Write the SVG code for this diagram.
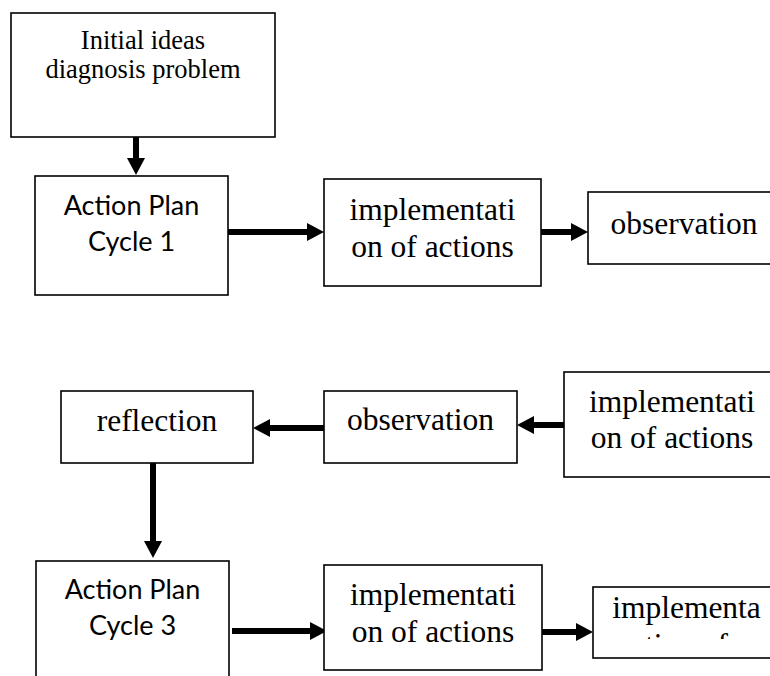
<svg xmlns="http://www.w3.org/2000/svg" width="770" height="676" viewBox="0 0 770 676">
  <style>
    .box { fill: #ffffff; stroke: #000000; stroke-width: 1.6; }
    .serif { font-family: "Liberation Serif", "Times New Roman", serif; font-size: 31.5px; fill: #000000; text-anchor: middle; }
    .small { font-size: 26.5px; }
    .sans { font-family: Lato, "Liberation Sans", sans-serif; font-size: 27px; fill: #000000; text-anchor: middle; }
    .conn { stroke: #000000; stroke-width: 6; fill: none; marker-end: url(#head); }
  </style>
  <defs>
    <marker id="head" markerUnits="userSpaceOnUse" markerWidth="18" markerHeight="18" refX="0" refY="9" orient="auto">
      <path d="M0,0 L17,9 L0,18 z" fill="#000000"/>
    </marker>
    <clipPath id="clipLast">
      <rect x="593" y="587" width="180" height="52"/>
    </clipPath>
  </defs>
  <rect width="770" height="676" fill="#ffffff"/>

  <g id="connectors">
    <line class="conn" x1="136" y1="137" x2="136" y2="158"/>
    <line class="conn" x1="228" y1="232" x2="307" y2="232"/>
    <line class="conn" x1="541" y1="232" x2="571" y2="232"/>
    <line class="conn" x1="324" y1="428" x2="270" y2="428"/>
    <line class="conn" x1="564" y1="425" x2="534" y2="425"/>
    <line class="conn" x1="153" y1="463" x2="153" y2="541"/>
    <line class="conn" x1="232" y1="631" x2="310" y2="631"/>
    <line class="conn" x1="542" y1="632" x2="576" y2="632"/>
  </g>

  <g id="initial">
    <rect class="box" x="11" y="13" width="264" height="124"/>
    <text class="serif small" x="143" y="49">Initial ideas</text>
    <text class="serif small" x="143" y="78">diagnosis problem</text>
  </g>

  <g id="plan1">
    <rect class="box" x="35" y="176" width="193" height="119"/>
    <text class="sans" x="131.5" y="215">Action Plan</text>
    <text class="sans" x="131.5" y="251">Cycle 1</text>
  </g>

  <g id="impl1">
    <rect class="box" x="324" y="179" width="217" height="107"/>
    <text class="serif" x="432.5" y="220">implementati</text>
    <text class="serif" x="432.5" y="257">on of actions</text>
  </g>

  <g id="obs1">
    <rect class="box" x="588" y="192" width="200" height="72"/>
    <text class="serif" x="684" y="234">observation</text>
  </g>

  <g id="reflection">
    <rect class="box" x="61" y="391" width="192" height="72"/>
    <text class="serif" x="157" y="431">reflection</text>
  </g>

  <g id="obs2">
    <rect class="box" x="324" y="391" width="193" height="72"/>
    <text class="serif" x="420.5" y="430">observation</text>
  </g>

  <g id="impl2">
    <rect class="box" x="564" y="372" width="220" height="105"/>
    <text class="serif" x="672" y="412">implementati</text>
    <text class="serif" x="672" y="448">on of actions</text>
  </g>

  <g id="plan3">
    <rect class="box" x="36" y="561" width="193" height="130"/>
    <text class="sans" x="132.5" y="599">Action Plan</text>
    <text class="sans" x="132.5" y="635">Cycle 3</text>
  </g>

  <g id="impl3">
    <rect class="box" x="324" y="565" width="218" height="105"/>
    <text class="serif" x="433" y="605">implementati</text>
    <text class="serif" x="433" y="642">on of actions</text>
  </g>

  <g id="impl4">
    <rect class="box" x="593" y="587" width="200" height="71"/>
    <g clip-path="url(#clipLast)">
      <text class="serif" x="686.5" y="618">implementa</text>
      <text class="serif" x="686.5" y="655">tion of</text>
    </g>
  </g>
</svg>
